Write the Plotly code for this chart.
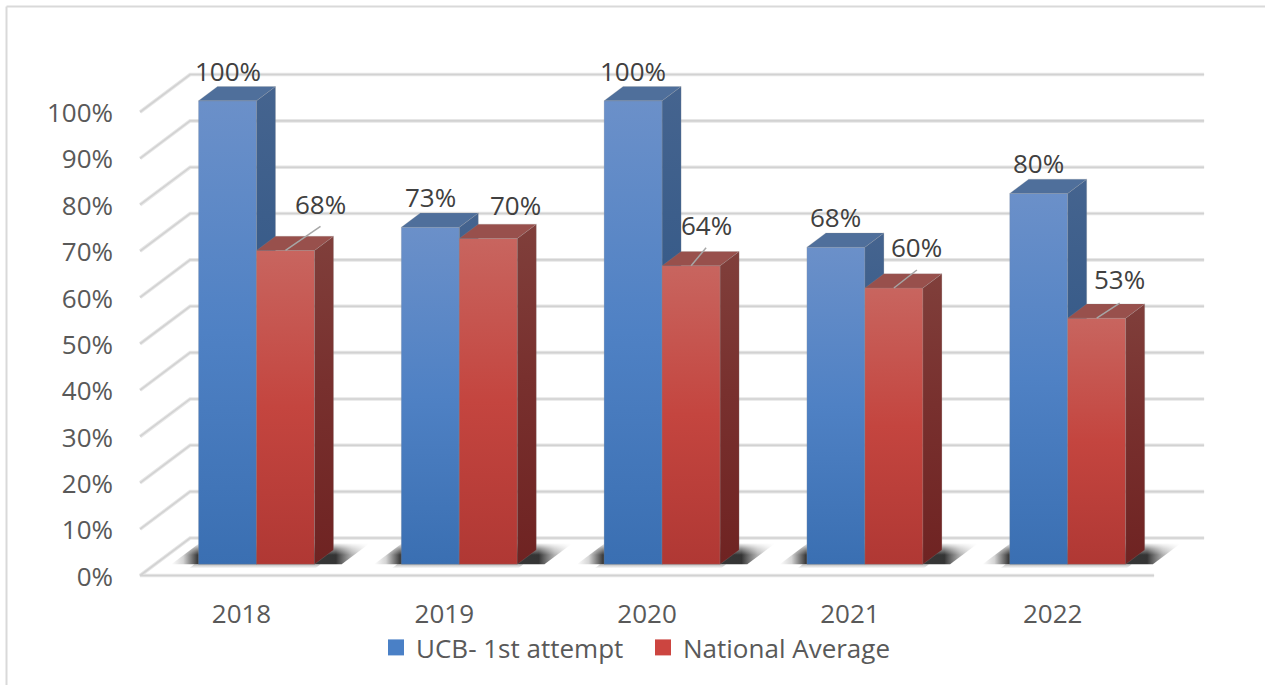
import plotly.graph_objects as go

# ---- data ----
years = ["2018", "2019", "2020", "2021", "2022"]
ucb_first_attempt = [1.00, 0.727, 1.00, 0.684, 0.80]
national_average = [0.677, 0.703, 0.644, 0.596, 0.531]
y_ticks = [0.0, 0.1, 0.2, 0.3, 0.4, 0.5, 0.6, 0.7, 0.8, 0.9, 1.0]
y_tick_labels = ["0%", "10%", "20%", "30%", "40%", "50%", "60%", "70%", "80%", "90%", "100%"]

# ---- label placement (pixel offsets from the top-centre of each bar's front face) ----
ucb_label_offsets = [(0, -30), (0, -30), (0, -30), (0, -30), (0, -30)]
nat_label_offsets = [(35, -46), (27, -33), (15, -41), (23, -41), (23, -39)]
nat_leader_ends = [(35, -24), None, (15, -18), (23, -18), (23, -15)]

# ---- geometry / page ----
W, H = 1265, 685
ML, MR, MT, MB = 125, 40, 40, 95
PX_PER_CAT = 202.8
PX_PER_UNIT = 463.5
X0_PX = 241.5            # pixel of category 0 on the front plane
Y0_PX = 575.5            # pixel of value 0 on the front plane
DX = 50.0 / PX_PER_CAT   # full depth, in category units
DY = 37.5 / PX_PER_UNIT  # full depth, in value units
BAR_W = 58.0 / PX_PER_CAT
Z1, Z2 = 0.30, 0.68      # depth span of the bars
SH_L, SH_R, SH_Z1, SH_Z2 = -0.42, 0.42, 0.30, 0.86  # floor shadow
TICK_NUDGE = 1.0 / PX_PER_UNIT

x_range = [(ML - X0_PX) / PX_PER_CAT, (W - MR - X0_PX) / PX_PER_CAT]
y_range = [(Y0_PX - (H - MB)) / PX_PER_UNIT, (Y0_PX - MT) / PX_PER_UNIT]


def P(u, v, z):
    """3-D oblique projection into the axes' data coordinates."""
    return u + DX * z, v + DY * z


def poly(points):
    xs, ys = zip(*(points + points[:1]))
    return list(xs), list(ys)


def face(points, stops, kind="vertical", edge=True):
    xs, ys = poly(points)
    line = dict(width=0.6, color="rgba(150,150,150,0.35)") if edge else dict(width=0)
    return go.Scatter(x=xs, y=ys, mode="lines", fill="toself", line=line,
                      fillgradient=dict(type=kind, colorscale=stops),
                      hoverinfo="skip", showlegend=False)


BLUE = dict(
    front=[[0, "#3a6fb2"], [0.5, "#4f81c4"], [1, "#6b90c9"]],
    side=[[0, "#2c4f80"], [0.55, "#365a88"], [1, "#45648f"]],
    top=[[0, "#4f6f9b"], [1, "#4f6f9b"]],
)
RED = dict(
    front=[[0, "#b03834"], [0.5, "#c4453f"], [1, "#c8655f"]],
    side=[[0, "#6f2322"], [0.55, "#78302e"], [1, "#803f3b"]],
    top=[[0, "#98504c"], [1, "#98504c"]],
)

fig = go.Figure()


def gridline(xs, ys):
    fig.add_trace(go.Scatter(x=xs, y=ys, mode="lines",
                             line=dict(color="#e6e6e6", width=3.6),
                             hoverinfo="skip", showlegend=False))
    fig.add_trace(go.Scatter(x=xs, y=ys, mode="lines",
                             line=dict(color="#d2d2d2", width=1.6),
                             hoverinfo="skip", showlegend=False))


# walls
for v in y_ticks[1:]:
    pts = [P(-0.5, v, 0), P(-0.5, v, 1), P(4.5, v, 1)]
    gridline([p[0] for p in pts], [p[1] for p in pts])
# floor
floor_pts = [P(4.5, 0, 0), P(-0.5, 0, 0), P(-0.5, 0, 1), P(4.5, 0, 1)]
gridline([p[0] for p in floor_pts], [p[1] for p in floor_pts])

# shadows
for i in range(len(years)):
    pts = [P(i + SH_L, 0, SH_Z1), P(i + SH_L, 0, SH_Z2), P(i + SH_R, 0, SH_Z2), P(i + SH_R, 0, SH_Z1)]
    fig.add_trace(face(pts, [
        [0, "rgba(40,40,40,0)"], [0.06, "rgba(40,40,40,0.2)"], [0.13, "rgba(40,40,40,0.9)"],
        [0.83, "rgba(30,30,30,0.9)"], [0.91, "rgba(60,60,60,0.4)"], [1, "rgba(60,60,60,0)"]],
        kind="horizontal", edge=False))
    # soft fade of the back edge of the shadow
    pts = [P(i + SH_L - 0.02, 0, 0.55), P(i + SH_L - 0.02, 0, SH_Z2 + 0.01),
           P(i + SH_R + 0.02, 0, SH_Z2 + 0.01), P(i + SH_R + 0.02, 0, 0.55)]
    fig.add_trace(face(pts, [[0, "rgba(255,255,255,0)"], [0.5, "rgba(255,255,255,0.45)"],
                             [1, "rgba(255,255,255,1)"]], edge=False))
    # faint blur below the front edge of the bars
    pts = [P(i - BAR_W - 0.02, 0, Z1), P(i + BAR_W + 0.03, 0, Z1),
           P(i + BAR_W + 0.03, 0, Z1 - 0.11), P(i - BAR_W - 0.02, 0, Z1 - 0.11)]
    fig.add_trace(face(pts, [[0, "rgba(120,120,120,0)"], [1, "rgba(120,120,120,0.5)"]], edge=False))


def bar(u_left, value, colors):
    u_right = u_left + BAR_W
    fig.add_trace(face([P(u_left, 0, Z1), P(u_left, value, Z1), P(u_right, value, Z1), P(u_right, 0, Z1)], colors["front"]))
    fig.add_trace(face([P(u_right, 0, Z1), P(u_right, value, Z1), P(u_right, value, Z2), P(u_right, 0, Z2)], colors["side"]))
    fig.add_trace(face([P(u_left, value, Z1), P(u_left, value, Z2), P(u_right, value, Z2), P(u_right, value, Z1)], colors["top"]))


for i in range(len(years)):
    bar(i - BAR_W, ucb_first_attempt[i], BLUE)
    bar(i, national_average[i], RED)

# leader lines of the data labels
for i, end in enumerate(nat_leader_ends):
    if end is None:
        continue
    x, y = P(i + BAR_W / 2, national_average[i], Z1)
    fig.add_trace(go.Scatter(x=[x, x + end[0] / PX_PER_CAT], y=[y, y - end[1] / PX_PER_UNIT],
                             mode="lines", line=dict(color="#a6a6a6", width=1.5),
                             hoverinfo="skip", showlegend=False))

# legend entries
fig.add_trace(go.Scatter(x=[None], y=[None], mode="markers", name="UCB- 1st attempt",
                         marker=dict(symbol="square", size=16, color="#4a80c6")))
fig.add_trace(go.Scatter(x=[None], y=[None], mode="markers", name="National Average",
                         marker=dict(symbol="square", size=16, color="#cc4540")))

# data labels
annotations = []
LABEL_FONT = dict(family="Open Sans", size=26, color="#404040")
for i in range(len(years)):
    x, y = P(i - BAR_W / 2, ucb_first_attempt[i], Z1)
    dx, dy = ucb_label_offsets[i]
    annotations.append(dict(x=x, y=y, xref="x", yref="y", text=f"{ucb_first_attempt[i]:.0%}",
                            showarrow=False, xshift=dx, yshift=-dy, font=LABEL_FONT))
    x, y = P(i + BAR_W / 2, national_average[i], Z1)
    dx, dy = nat_label_offsets[i]
    annotations.append(dict(x=x, y=y, xref="x", yref="y", text=f"{national_average[i]:.0%}",
                            showarrow=False, xshift=dx, yshift=-dy, font=LABEL_FONT))

# frame of the chart area, in paper coordinates
px = lambda p: (p - ML) / (W - ML - MR)
py = lambda p: 1 - (p - MT) / (H - MT - MB)
FRAME = dict(color="#d9d9d9", width=2)
shapes = [
    dict(type="line", xref="paper", yref="paper", x0=px(6.5), x1=px(6.5), y0=py(6.5), y1=py(H), line=FRAME),
    dict(type="line", xref="paper", yref="paper", x0=px(6.5), x1=px(W), y0=py(6.5), y1=py(6.5), line=FRAME),
]

TICK_FONT = dict(family="Open Sans", size=26, color="#595959")
fig.update_layout(
    width=W, height=H,
    margin=dict(l=ML, r=MR, t=MT, b=MB, autoexpand=False),
    paper_bgcolor="white", plot_bgcolor="white",
    font=dict(family="Open Sans"),
    hovermode=False,
    xaxis=dict(range=x_range, tickmode="array", tickvals=list(range(len(years))), ticktext=years,
               showgrid=False, zeroline=False, showline=False, ticks="", tickfont=TICK_FONT,
               ticklabelstandoff=6),
    yaxis=dict(range=y_range, tickmode="array", tickvals=[v - TICK_NUDGE for v in y_ticks],
               ticktext=y_tick_labels,
               showgrid=False, zeroline=False, showline=False, ticks="", tickfont=TICK_FONT,
               ticklabelstandoff=11),
    legend=dict(orientation="h", x=px(376), y=py(624), xanchor="left", yanchor="top",
                entrywidth=222, entrywidthmode="pixels",
                font=dict(family="Open Sans", size=26, color="#595959"),
                bgcolor="rgba(0,0,0,0)", itemclick=False, itemdoubleclick=False),
    annotations=annotations,
    shapes=shapes,
)

fig.write_html("out.html", config=dict(displayModeBar=False),
               post_script="document.body.style.margin='0';document.body.style.overflow='hidden';")
